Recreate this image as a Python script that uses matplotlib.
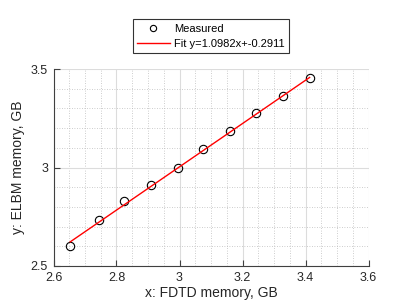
import matplotlib
matplotlib.use("Agg")
import matplotlib.pyplot as plt
import numpy as np
from matplotlib.ticker import MultipleLocator

plt.rcParams['font.family'] = ['Liberation Sans', 'DejaVu Sans']

x_fdtd = [2.653, 2.743, 2.825, 2.910, 2.995, 3.075, 3.159, 3.243, 3.329, 3.413]
y_elbm = [2.600, 2.736, 2.829, 2.910, 2.998, 3.093, 3.185, 3.275, 3.363, 3.452]
slope = 1.0982
intercept = -0.2911
x_ticks = [2.6, 2.8, 3.0, 3.2, 3.4, 3.6]
x_tick_labels = ['2.6', '2.8', '3', '3.2', '3.4', '3.6']
y_ticks = [2.5, 3.0, 3.5]
y_tick_labels = ['2.5', '3', '3.5']

fig = plt.figure(figsize=(4.07, 3.05), dpi=100)
ax = fig.add_axes([53.5/407, 1 - 266/305, (368.5 - 53.5)/407, (266 - 69)/305])

ax.plot(x_fdtd, y_elbm, 'o', mfc='none', mec='black', ms=6, mew=0.8, label='Measured')
xf = np.array([min(x_fdtd), max(x_fdtd)])
ax.plot(xf, slope * xf + intercept, '-', color='red', lw=1.0,
        label=f'Fit y={slope:.4f}x+{intercept:.4f}')

ax.set_xlim(2.6, 3.6)
ax.set_ylim(2.5, 3.5)
ax.set_xticks(x_ticks)
ax.set_xticklabels(x_tick_labels)
ax.set_yticks(y_ticks)
ax.set_yticklabels(y_tick_labels)
ax.xaxis.set_minor_locator(MultipleLocator(0.05))
ax.yaxis.set_minor_locator(MultipleLocator(0.1))
ax.grid(True, which='major', color='#dcdcdc', lw=0.8)
ax.grid(True, which='minor', color='#bcbcbc', lw=0.6, ls=(0, (1, 2)))
ax.set_axisbelow(True)
for s in ['top', 'right']:
    ax.spines[s].set_visible(False)
for s in ['left', 'bottom']:
    ax.spines[s].set_color('#404040')
    ax.spines[s].set_linewidth(0.8)
ax.tick_params(which='major', direction='in', length=4, width=0.8, color='#404040',
               labelsize=9, labelcolor='#262626', pad=4)
ax.tick_params(which='minor', length=0)

ax.set_xlabel('x: FDTD memory, GB', fontsize=10, color='#262626', labelpad=2)
ax.set_ylabel('y: ELBM memory, GB', fontsize=10, color='#262626', labelpad=4)

leg = ax.legend(loc='lower center', bbox_to_anchor=(0.5, 1.08), frameon=True,
                fancybox=False, edgecolor='black', fontsize=8, borderpad=0.4,
                handlelength=2.9, handletextpad=0.4, labelspacing=0.45,
                markerscale=0.75, borderaxespad=0)
leg.get_frame().set_linewidth(0.8)

fig.savefig('out.png', dpi=100)
